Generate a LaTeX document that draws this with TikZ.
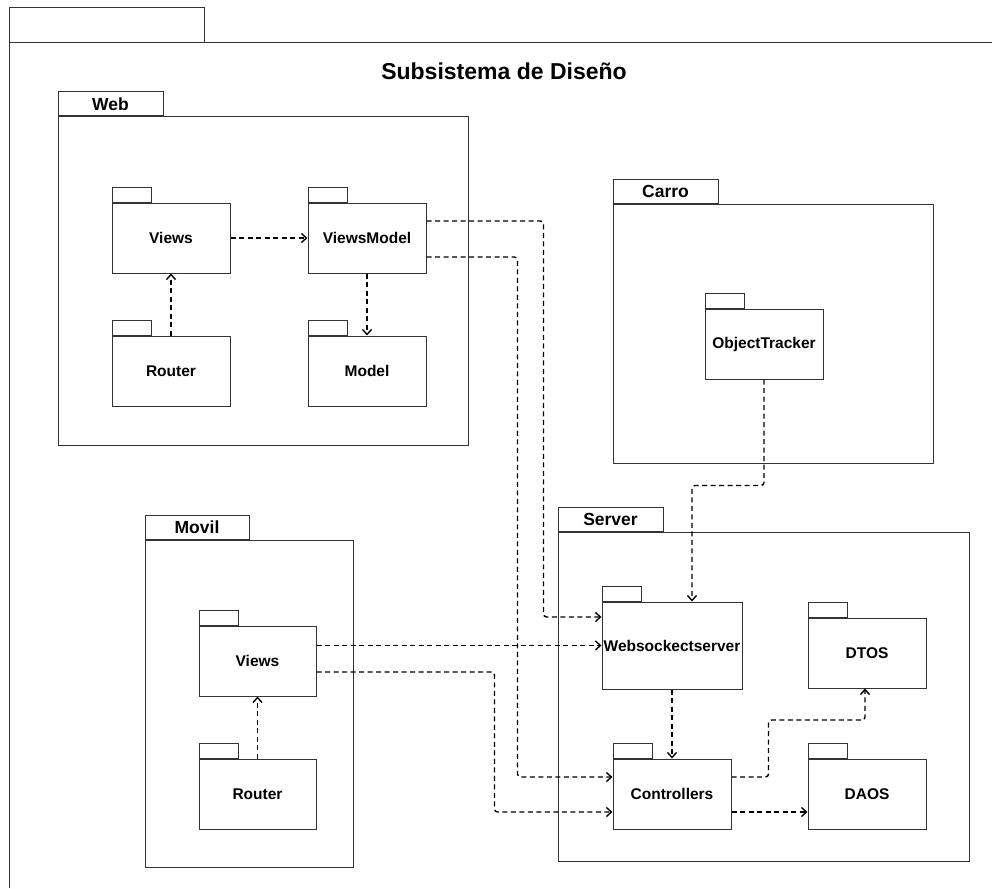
\documentclass[tikz,border=0pt]{standalone}
\usepackage{fontspec}
\setmainfont{Liberation Sans}
\usetikzlibrary{arrows.meta}

\definecolor{linec}{HTML}{333333}

\tikzset{
  pkgbody/.style={draw=linec, line width=1pt, fill=white, inner sep=0pt,
    font=\bfseries\fontsize{15.5}{18}\selectfont},
  pkgtab/.style={draw=linec, line width=1pt, fill=white, inner sep=0pt,
    anchor=south west, font=\bfseries\fontsize{17.5}{20}\selectfont},
  dep/.style={draw=black, line width=1.4pt, dash pattern=on 5pt off 3.5pt,
    rounded corners=3pt, -{Straight Barb[length=5pt,width=9pt]}},
}

% container package: body node plus labelled tab
\newcommand\bigpkg[6]{%
  \node[pkgbody, minimum width=#3pt, minimum height=#4pt] (#1) at #2 {};
  \node[pkgtab, minimum width=#5pt, minimum height=24pt] (#1-tab) at (#1.north west) {#6};}
% inner package: labelled body node plus empty tab
\newcommand\smallpkg[5]{%
  \node[pkgbody, minimum width=#3pt, minimum height=#4pt] (#1) at #2 {#5};
  \node[pkgtab, minimum width=39pt, minimum height=15pt] (#1-tab) at (#1.north west) {};}

\begin{document}
\begin{tikzpicture}[x=1pt, y=-1pt]
\useasboundingbox (0,0) rectangle (992,888);

% outer frame
\draw[linec, line width=1pt] (9,888) -- (9,43) -- (992,43);
\draw[linec, line width=1pt] (9,43) rectangle (204,8);
\node[font=\bfseries\fontsize{23}{26}\selectfont] (title) at (504,71) {Subsistema de Diseño};

% Web
\bigpkg{web}{(263,281)}{410}{328}{105}{Web}
\smallpkg{wviews}{(171,238)}{118}{70}{Views}
\smallpkg{vmodel}{(367,238)}{118}{70}{ViewsModel}
\smallpkg{wrouter}{(171,371)}{118}{70}{Router}
\smallpkg{model}{(367,371)}{118}{70}{Model}

% Carro
\bigpkg{carro}{(773,333.5)}{320}{259}{105}{Carro}
\smallpkg{otrack}{(764,344)}{118}{70}{ObjectTracker}

% Movil
\bigpkg{movil}{(249,703.5)}{208}{327}{104}{Movil}
\smallpkg{mviews}{(257.5,661)}{117}{70}{Views}
\smallpkg{mrouter}{(257.5,794)}{117}{70}{Router}

% Server
\bigpkg{server}{(763.5,696.5)}{411}{329}{105}{Server}
\smallpkg{wss}{(672,645.5)}{140}{87}{Websockectserver}
\smallpkg{dtos}{(867,653)}{118}{70}{DTOS}
\smallpkg{ctrl}{(672,794)}{118}{70}{Controllers}
\smallpkg{daos}{(867,794)}{118}{70}{DAOS}

% dependencies
\draw[dep] (wviews.east) -- (vmodel.west);
\draw[dep] (wrouter.north) -- (wviews.south);
\draw[dep] (vmodel.south) -- (model.north);
\draw[dep] (mrouter.north) -- (mviews.south);

\draw[dep] ([yshift=17pt]vmodel.east) -- ++(117,0) |- ([yshift=28.5pt]wss.west);
\draw[dep] ([yshift=-19pt]vmodel.east) -- ++(91,0) |- ([yshift=17pt]ctrl.west);
\draw[dep] (mviews.east |- wss.west) -- (wss.west);
\draw[dep] ([yshift=-11pt]mviews.east) -- ++(178,0) |- ([yshift=-18pt]ctrl.west);
\draw[dep] (otrack.south) -- ++(0,106) -| ([xshift=20pt]wss.north);
\draw[dep] (wss.south) -- (ctrl.north);
\draw[dep] ([yshift=17pt]ctrl.east) -- ++(37,0) -- ++(0,-57) -| ([xshift=-2pt]dtos.south);
\draw[dep] ([yshift=-18pt]ctrl.east) -- ([yshift=-18pt]daos.west);
\end{tikzpicture}
\end{document}
